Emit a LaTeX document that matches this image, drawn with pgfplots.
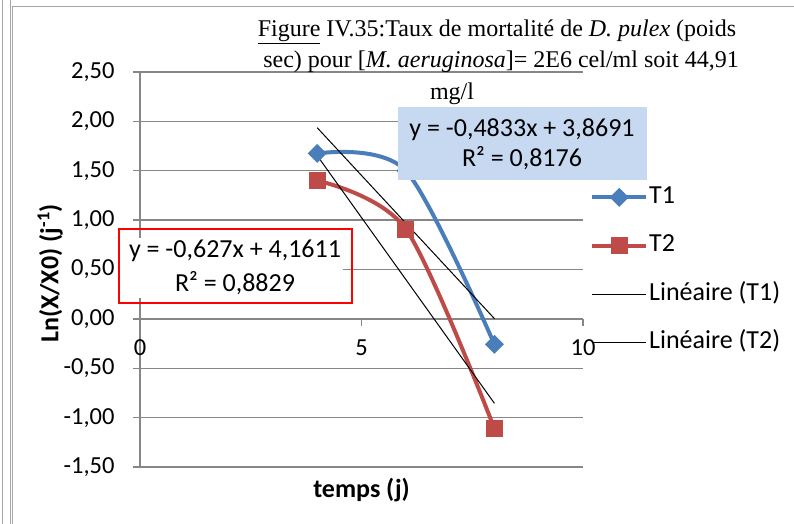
\documentclass[border=0pt]{standalone}
\usepackage{pgfplots}
\pgfplotsset{compat=1.18}
\usepackage{fontspec}
\setmainfont{Carlito}
\newfontfamily\titlefont{Liberation Serif}

\definecolor{tblue}{HTML}{4A7EBB}
\definecolor{tred}{HTML}{BE4B48}
\definecolor{gridgray}{HTML}{868686}
\definecolor{boxblue}{HTML}{C6D9F1}
\definecolor{framegray}{HTML}{A6A6A6}

\begin{document}
\begin{tikzpicture}
\useasboundingbox (0,0) rectangle (794bp,524bp);
% page frame
\draw[framegray, line width=1bp] (2.5bp,0) -- (2.5bp,524bp);
\draw[framegray, line width=0.8bp] (10bp,0) -- (10bp,524bp);
\draw[framegray, line width=0.8bp] (12.5bp,0) -- (12.5bp,518bp) -- (794bp,518bp);

\begin{axis}[
    at={(140bp,57bp)}, anchor=south west,
    scale only axis, width=443bp, height=395bp,
    xmin=0, xmax=10, ymin=-1.5, ymax=2.5,
    axis x line*=middle, axis y line*=left,
    hide obscured x ticks=false,
    xtick={0,5,10},
    ytick={-1.5,-1,-0.5,0,0.5,1,1.5,2,2.5},
    ymajorgrids,
    grid style={gridgray, line width=1.3bp},
    axis line style={gridgray, line width=1.3bp, -},
    tick style={gridgray, line width=1.3bp},
    major tick length=7bp, tick align=outside,
    tick label style={font=\fontsize{24.5bp}{28bp}\selectfont, black},
    /pgf/number format/assume math mode=true,
    yticklabel={\pgfmathprintnumber[fixed, fixed zerofill, precision=2, use comma]{\tick}},
    yticklabel style={xshift=-15bp},
    xticklabel style={yshift=-10bp},
    every axis x label/.style={at={(axis description cs:0.5,-0.076)}, anchor=base},
    every axis y label/.style={at={(axis description cs:-0.203,0.49)}, rotate=90, anchor=center},
    xlabel={\fontsize{26bp}{30bp}\selectfont\bfseries temps (j)},
    ylabel={\fontsize{26bp}{30bp}\selectfont\bfseries Ln(X/X0) (j\textsuperscript{-1})},
    legend style={at={(axis description cs:1.0158,0.716)}, anchor=north west,
        draw=none, fill=none, inner sep=0pt,
        font=\fontsize{26bp}{30bp}\selectfont,
        row sep=22.5bp, nodes={inner sep=1bp, text height=18bp, text depth=6bp},
        cells={anchor=west}},
    legend image code/.code={\draw[mark repeat=2, mark phase=2, #1] plot coordinates {(0bp,0bp) (27bp,0bp) (54bp,0bp)};},
]
\addplot[tblue, line width=4bp, smooth, mark=square*, mark size=6.2bp,
    mark options={rotate=45, solid, line width=1bp}]
    coordinates {(4,1.675) (6,1.500) (8,-0.258)};
\addlegendentry{T1}
\addplot[tred, line width=4bp, smooth, mark=square*, mark size=8bp,
    mark options={solid, line width=1bp}]
    coordinates {(4,1.40) (6,0.91) (8,-1.11)};
\addlegendentry{T2}
\addplot[black, line width=1bp] coordinates {(4,1.9359) (8,0.0027)};
\addlegendentry{Linéaire (T1)}
\addplot[black, line width=1bp] coordinates {(4,1.6531) (8,-0.8549)};
\addlegendentry{Linéaire (T2)}
\end{axis}

% title
\begin{scope}[every node/.style={anchor=base, inner sep=0pt, font=\titlefont\fontsize{24bp}{28bp}\selectfont}]
\node at (497bp,487bp) {\underline{Figure} IV.35:Taux de mortalité de \textit{D. pulex} (poids};
\node at (501bp,456bp) {sec) pour [\textit{M. aeruginosa}]= 2E6 cel/ml soit 44,91};
\node at (452bp,424bp) {mg/l};
\end{scope}

% trendline labels
\fill[boxblue] (398bp,417bp) rectangle (647bp,344bp);
\begin{scope}[every node/.style={anchor=base, inner sep=0pt, font=\fontsize{26bp}{30bp}\selectfont}]
\node at (522bp,387bp) {y = -0,4833x + 3,8691};
\node at (522bp,357bp) {R² = 0,8176};
\fill[white] (127bp,286bp) rectangle (343bp,226bp);
\draw[red, line width=1.3bp] (119bp,295bp) rectangle (352bp,221bp);
\node at (235bp,266bp) {y = -0,627x + 4,1611};
\node at (235bp,232bp) {R² = 0,8829};
\end{scope}
\end{tikzpicture}
\end{document}
